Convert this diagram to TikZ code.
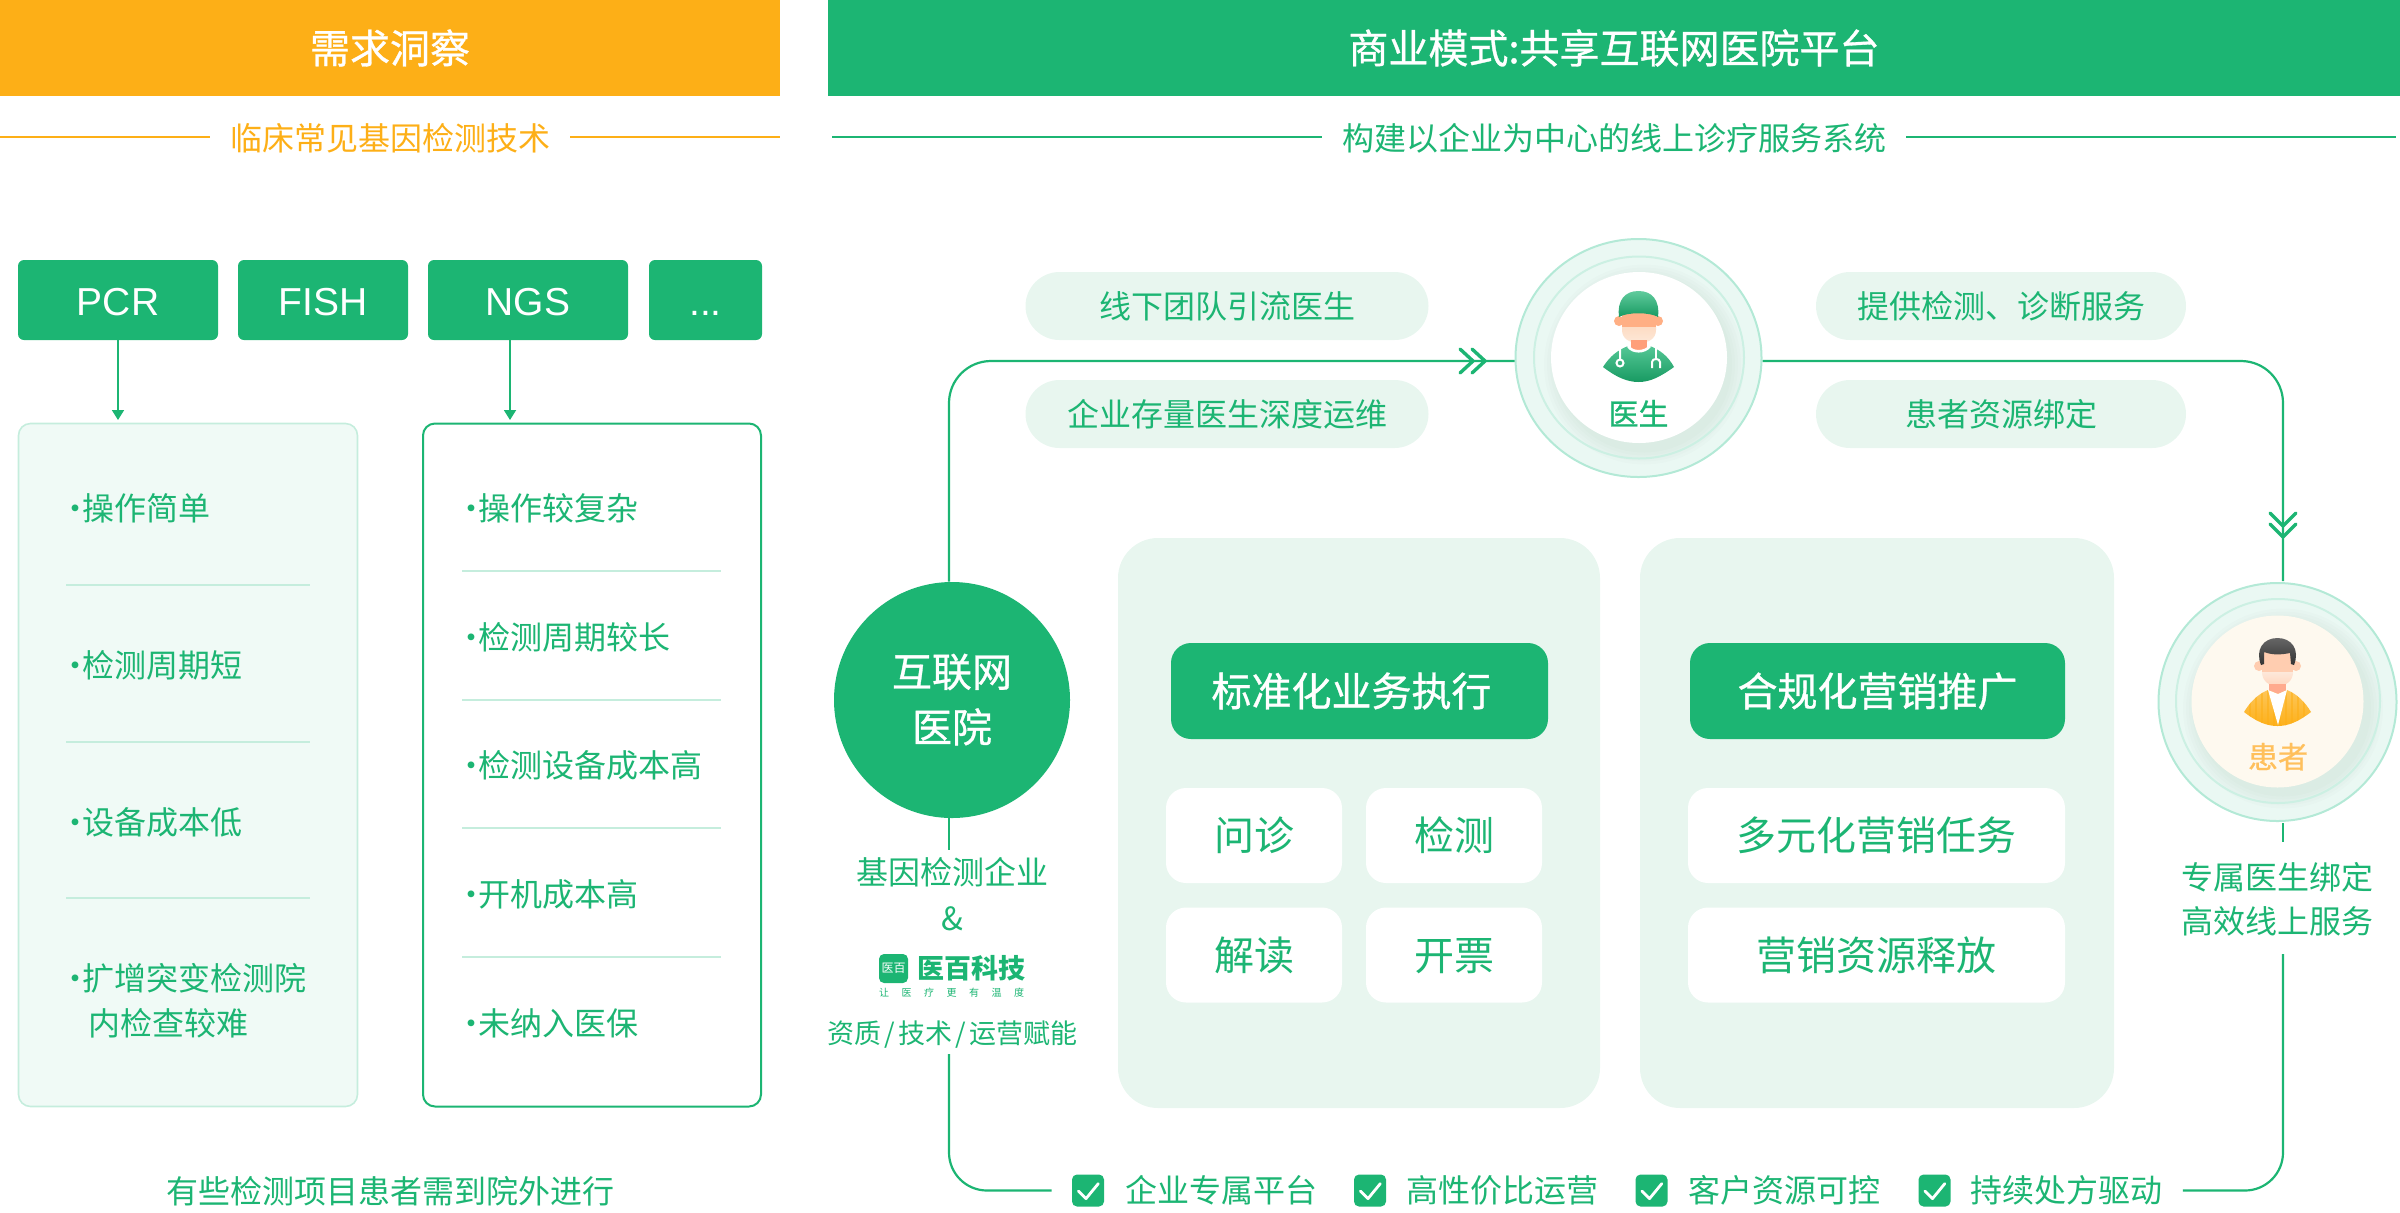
\documentclass[tikz,border=0pt]{standalone}
\usepackage{fontspec}
\setmainfont{Noto Sans CJK SC}
\newfontfamily\headFont[FakeBold=0.8]{Noto Sans CJK SC}
\newfontfamily\latinFont{Liberation Sans}
\usetikzlibrary{arrows.meta,shapes.geometric}
\definecolor{mainGreen}{RGB}{28,181,115}
\definecolor{mainOrange}{RGB}{253,175,23}
\definecolor{paleGreen}{RGB}{232,246,239}
\definecolor{panelGreen}{RGB}{240,250,246}
\definecolor{edgeGreen}{RGB}{197,237,221}
\definecolor{discGreen}{RGB}{234,248,243}
\definecolor{discEdge}{RGB}{179,233,214}
\definecolor{ringGreen}{RGB}{204,240,227}
\definecolor{creamFill}{RGB}{254,249,239}
\definecolor{patientText}{RGB}{255,192,92}
\definecolor{doctorSkin}{RGB}{255,175,132}
\definecolor{doctorMaskTop}{RGB}{253,220,196}
\definecolor{doctorMaskEnd}{RGB}{253,232,216}
\definecolor{doctorNeck}{RGB}{255,159,122}
\definecolor{patientSkin}{RGB}{255,205,176}
\definecolor{patientMaskTop}{RGB}{253,232,218}
\definecolor{patientMaskEnd}{RGB}{255,214,190}
\definecolor{patientNeck}{RGB}{255,170,142}
\tikzstyle{canvas} = [x = .5pt, y = -.5pt]
\tikzstyle{sizeS} = [font=\fontsize{16}{16}\selectfont, text height=14.08pt, text depth=1.92pt, inner sep=0pt, text=mainGreen]
\tikzstyle{sizeM} = [font=\fontsize{16}{16}\selectfont, text height=14.08pt, text depth=1.92pt, inner sep=0pt, text=mainGreen]
\tikzstyle{sizeXs} = [font=\fontsize{13.5}{14}\selectfont, text height=11.9pt, text depth=1.6pt, inner sep=0pt, text=mainGreen]
\tikzstyle{sizeL} = [font=\fontsize{20}{20}\selectfont, text height=17.6pt, text depth=2.4pt, inner sep=0pt, text=mainGreen]
\tikzstyle{sizeHead} = [font=\headFont\fontsize{20}{20}\selectfont, text height=17.6pt, text depth=2.4pt, inner sep=0pt, text=white]
\tikzstyle{headerBar} = [sizeHead, rectangle, minimum height=48pt]
\tikzstyle{methodBox} = [font=\latinFont\fontsize{19.5}{20}\selectfont, text height=17.6pt, text depth=2.4pt, inner sep=0pt, text=white, fill=mainGreen, rounded corners=3pt, minimum height=40pt]
\tikzstyle{softPanel} = [draw=edgeGreen, fill=panelGreen, line width=.8pt, rounded corners=6pt, minimum width=169.5pt, minimum height=341.5pt]
\tikzstyle{plainPanel} = [draw=mainGreen, fill=white, line width=1pt, rounded corners=6pt, minimum width=169pt, minimum height=341.5pt]
\tikzstyle{divider} = [edgeGreen, line width=.8pt]
\tikzstyle{thinLine} = [mainGreen, line width=.9pt]
\tikzstyle{tipLine} = [thinLine, -{Triangle[width=6pt,length=5pt]}]
\tikzstyle{flowLine} = [mainGreen, line width=1.1pt]
\tikzstyle{chevron} = [mainGreen, line width=1.7pt, line cap=round, line join=round]
\tikzstyle{pillBox} = [sizeS, fill=paleGreen, rounded corners=17pt, minimum height=34pt]
\tikzstyle{bigPanel} = [fill=paleGreen, rounded corners=20pt, minimum height=285pt]
\tikzstyle{taskHead} = [sizeHead, fill=mainGreen, rounded corners=10pt, minimum height=48pt]
\tikzstyle{taskBox} = [sizeL, fill=white, rounded corners=10pt, minimum height=47.5pt]
\tikzstyle{outerDisc} = [circle, draw=discEdge, fill=discGreen, line width=1pt, inner sep=0pt]
\tikzstyle{innerDisc} = [circle, inner sep=0pt]
\tikzstyle{ringLine} = [ringGreen, line width=1pt]
\tikzstyle{checkBox} = [fill=mainGreen, rounded corners=2.5pt, minimum width=16pt, minimum height=16pt, inner sep=0pt]
\tikzstyle{checkLine} = [white, line width=1.4pt, line cap=round, line join=round]
\newcommand{\checkItem}[4]{
  \node [checkBox] (#1Box) at (#2,1190.5) {};
  \draw [checkLine] (#2-9.7,1191) -- (#2-2,1198.6) -- (#2+10.3,1183.6);
  \node [sizeS, anchor=west] (#1Text) at (#3,1190.5) {#4};
}
\newcommand{\discShadow}[2]{
  \foreach \rad in {88,91,...,100} {
    \fill [black!60!mainGreen, opacity=.012] (#1+5,#2+7) circle (\rad);
  }
}
\newcommand{\doctorFigure}{
  \fill [doctorSkin] (1619,321) circle (5);
  \fill [doctorSkin] (1658,321) circle (5);
  \fill [doctorSkin] (1622,312) rectangle (1656,328);
  \shade [top color=doctorMaskTop, bottom color=doctorMaskEnd] (1622,327) -- (1656,327) -- (1656,330) .. controls (1656,339) and (1648,343) .. (1639,343) .. controls (1630,343) and (1622,339) .. (1622,330) -- cycle;
  \fill [doctorNeck] (1631,340) rectangle (1647,351);
  \shade [top color=mainGreen!70!white, bottom color=mainGreen!85!black] (1619,317) .. controls (1617,300) and (1625,291) .. (1638.5,291) .. controls (1652,291) and (1660,300) .. (1658,317) .. controls (1650,312) and (1627,312) .. cycle;
  \shade [top color=mainGreen!75!white, bottom color=mainGreen!85!black] (1603,367) .. controls (1610,356) and (1618,350) .. (1628,346) .. controls (1632,352) and (1645,352) .. (1650,346) .. controls (1660,350) and (1668,356) .. (1674,367) .. controls (1660,377) and (1650,382) .. (1638.5,382) .. controls (1627,382) and (1616,377) .. cycle;
  \draw [white, line width=1.3pt] (1628,346) .. controls (1632,353) and (1645,353) .. (1650,346);
  \draw [white, line width=1pt] (1620,347) -- (1620,359) (1620,363) circle (3.5);
  \draw [white, line width=1pt] (1656,347) -- (1656,358);
  \draw [white, line width=1pt] (1652,368) -- (1652,362) .. controls (1652,358) and (1660,358) .. (1660,362) -- (1660,368);
}
\newcommand{\patientFigure}{
  \fill [patientSkin] (2259,666) circle (5);
  \fill [patientSkin] (2296,666) circle (5);
  \fill [patientSkin] (2262,650) rectangle (2293,673);
  \shade [top color=patientMaskTop, bottom color=patientMaskEnd] (2262,672) -- (2293,672) .. controls (2293,681) and (2286,686) .. (2277.5,686) .. controls (2269,686) and (2262,681) .. (2262,672) -- cycle;
  \fill [patientNeck] (2269,684) rectangle (2286,696);
  \shade [top color=black!60, bottom color=black!80] (2261,665) .. controls (2255,650) and (2263,638) .. (2277.5,638) .. controls (2292,638) and (2300,650) .. (2294,665) -- (2291,664) -- (2290,653) .. controls (2280,655) and (2272,655) .. (2264,652) -- (2264,664) -- cycle;
  \begin{scope}
    \clip (2244,712) .. controls (2250,702) and (2258,694) .. (2268,690) -- (2278,694) -- (2287,690) .. controls (2297,694) and (2305,702) .. (2311,712) .. controls (2298,722) and (2288,726) .. (2277.5,726) .. controls (2267,726) and (2257,722) .. cycle;
    \shade [top color=mainOrange!70!white, bottom color=mainOrange] (2240,688) rectangle (2315,728);
    \foreach \stripe in {2250,2256,...,2306} {
      \draw [mainOrange, opacity=.55, line width=1pt] (\stripe,688) -- (\stripe,728);
    }
    \fill [white] (2268,690) -- (2278,725) -- (2287,690) -- (2278,694) -- cycle;
  \end{scope}
}
\begin{document}
\begin{tikzpicture}[canvas]
  \useasboundingbox (0,0) rectangle (2400,1212);

  \node [headerBar, fill=mainOrange, minimum width=390pt] (needHeader) at (390,48) {需求洞察};
  \node [headerBar, fill=mainGreen, minimum width=786pt] (modelHeader) at (1614,48) {商业模式:共享互联网医院平台};
  \node [sizeS, text=mainOrange] (needTitle) at (390,138) {临床常见基因检测技术};
  \node [sizeS] (modelTitle) at (1614,138) {构建以企业为中心的线上诊疗服务系统};
  \draw [mainOrange, line width=.9pt] (0,137) -- ([xshift=-10pt,yshift=.5pt]needTitle.west);
  \draw [mainOrange, line width=.9pt] ([xshift=10pt,yshift=.5pt]needTitle.east) -- (780,137);
  \draw [thinLine] (832,137) -- ([xshift=-10pt,yshift=.5pt]modelTitle.west);
  \draw [thinLine] ([xshift=10pt,yshift=.5pt]modelTitle.east) -- (2396,137);

  \node [methodBox, minimum width=100pt] (pcr) at (118,300) {PCR};
  \node [methodBox, minimum width=85pt] (fish) at (323,300) {FISH};
  \node [methodBox, minimum width=100pt] (ngs) at (528,300) {NGS};
  \node [methodBox, minimum width=56.5pt] (otherMethod) at (705.5,300) {...};
  \node [softPanel] (pcrPanel) at (188,765) {};
  \node [plainPanel] (ngsPanel) at (592,765) {};
  \coordinate (pcrTip) at (118,420);
  \coordinate (ngsTip) at (510,420);
  \draw [tipLine] (pcr.south) -- (pcrTip);
  \draw [tipLine] (ngs.south -| ngsTip) -- (ngsTip);

  \foreach \y/\itemText/\itemName in {508/操作简单/a,665/检测周期短/b,822/设备成本低/c,978/扩增突变检测院/d} {
    \node [sizeS, anchor=west] (pcrItem\itemName) at (59,\y) {·\hspace{-4.5pt}\itemText};
  }
  \node [sizeS, anchor=west] (pcrItemTail) at (88,1023) {内检查较难};
  \foreach \y in {585,742,898} {
    \draw [divider] (66,\y) -- (310,\y);
  }
  \foreach \y/\itemText/\itemName in {508/操作较复杂/a,637/检测周期较长/b,765/检测设备成本高/c,894/开机成本高/d,1023/未纳入医保/e} {
    \node [sizeS, anchor=west] (ngsItem\itemName) at (455,\y) {·\hspace{-4.5pt}\itemText};
  }
  \foreach \y in {571,700,828,957} {
    \draw [divider] (462,\y) -- (721,\y);
  }
  \node [sizeS] (outsideNote) at (390,1191) {有些检测项目患者需到院外进行};

  \node [pillBox, minimum width=201.5pt] (pillA) at (1227,306) {线下团队引流医生};
  \node [pillBox, minimum width=201.5pt] (pillB) at (1227,414) {企业存量医生深度运维};
  \node [pillBox, minimum width=185pt] (pillC) at (2001,306) {提供检测、诊断服务};
  \node [pillBox, minimum width=185pt] (pillD) at (2001,414) {患者资源绑定};

  \node [bigPanel, minimum width=241pt] (servicePanel) at (1359,823) {};
  \node [bigPanel, minimum width=237pt] (marketPanel) at (1877,823) {};
  \node [taskHead, minimum width=188.5pt] (serviceHead) at (1359.5,691) {\hspace*{-8pt}标准化业务执行};
  \node [taskHead, minimum width=187.5pt] (marketHead) at (1877.5,691) {合规化营销推广};
  \node [taskBox, minimum width=88pt] (taskA) at (1254,835.5) {问诊};
  \node [taskBox, minimum width=88pt] (taskB) at (1454,835.5) {检测};
  \node [taskBox, minimum width=88pt] (taskC) at (1254,955) {解读};
  \node [taskBox, minimum width=88pt] (taskD) at (1454,955) {开票};
  \node [taskBox, minimum width=188.5pt] (taskE) at (1876.5,835.5) {多元化营销任务};
  \node [taskBox, minimum width=188.5pt] (taskF) at (1876.5,955) {营销资源释放};

  \node [outerDisc, ellipse, minimum width=123pt, minimum height=119pt] (doctor) at (1638.5,358) {};
  \discShadow{1639}{357.5}
  \draw [ringLine] (1639,357.5) circle [x radius=105, y radius=101];
  \node [innerDisc, ellipse, fill=white, minimum width=88pt, minimum height=85.5pt] (doctorInner) at (1639,357.5) {};
  \doctorFigure
  \node [sizeM, font=\headFont\fontsize{15}{15}\selectfont] (doctorName) at (1638.5,413) {医生};

  \node [outerDisc, minimum size=119pt] (patient) at (2277.5,702) {};
  \discShadow{2278}{701.5}
  \draw [ringLine] (2278,701) circle (102);
  \node [innerDisc, fill=creamFill, minimum size=86pt] (patientInner) at (2277.5,701.5) {};
  \patientFigure
  \node [sizeM, text=patientText, font=\headFont\fontsize{15}{15}\selectfont] (patientName) at (2278,756) {患者};

  \node [innerDisc, fill=mainGreen, minimum size=118pt] (hospital) at (952,700) {};
  \node [sizeHead] (hospitalA) at (952,671.5) {互联网};
  \node [sizeHead] (hospitalB) at (952,727) {医院};
  \node [sizeM] (partnerA) at (952,872) {基因检测企业};
  \node [sizeM] (partnerAnd) at (952,918) {\&};
  \node [fill=mainGreen, rounded corners=2.5pt, minimum size=14.5pt, inner sep=0pt, text=white, font=\fontsize{6}{6}\selectfont] (logoIcon) at (893.5,968.5) {医百};
  \node [sizeXs, font=\bfseries\fontsize{13.5}{14}\selectfont, anchor=west] (logoName) at (917,968) {医百科技};
  \node [font=\fontsize{5}{5}\selectfont, inner sep=0pt, text=mainGreen] (logoSlogan) at (951.5,993) {\makebox[72.5pt][s]{让\hfil 医\hfil 疗\hfil 更\hfil 有\hfil 温\hfil 度}};
  \node [sizeXs] (partnerB) at (952.5,1033) {资质\hspace{1.5pt}/\hspace{1.5pt}技术\hspace{1.5pt}/\hspace{1.5pt}运营赋能};
  \node [sizeS] (serviceA) at (2277.5,877) {专属医生绑定};
  \node [sizeS] (serviceB) at (2277.5,921) {高效线上服务};

  \checkItem{checkA}{1088}{1125}{企业专属平台}
  \checkItem{checkB}{1370}{1406.5}{高性价比运营}
  \checkItem{checkC}{1651.5}{1688}{客户资源可控}
  \checkItem{checkD}{1934.5}{1970}{持续处方驱动}

  \coordinate (hospitalStub) at (949,850);
  \coordinate (partnerEnd) at (949,1054);
  \coordinate (patientStub) at (2283,842);
  \coordinate (serviceEnd) at (2283,954);
  \draw [flowLine, rounded corners=21pt] ([xshift=-1.5pt]hospital.north) |- ([yshift=-1.5pt]doctor.west);
  \draw [flowLine, rounded corners=21pt] ([yshift=-1.5pt]doctor.east) -| ([xshift=2.75pt,yshift=.5pt]patient.north);
  \draw [flowLine] ([xshift=-1.5pt]hospital.south) -- (hospitalStub);
  \draw [flowLine, rounded corners=19pt] (partnerEnd) |- ([xshift=-10pt]checkABox.west);
  \draw [flowLine] ([xshift=2.75pt,yshift=-.5pt]patient.south) -- (patientStub);
  \draw [flowLine, rounded corners=19pt] (serviceEnd) |- ([xshift=10pt]checkDText.east);
  \draw [chevron] (1460,349) -- (1473,361) -- (1460,373);
  \draw [chevron] (1472,349) -- (1485,361) -- (1472,373);
  \draw [chevron] (2270,513) -- (2283,526) -- (2296,513);
  \draw [chevron] (2270,524) -- (2283,537) -- (2296,524);
\end{tikzpicture}
\end{document}
